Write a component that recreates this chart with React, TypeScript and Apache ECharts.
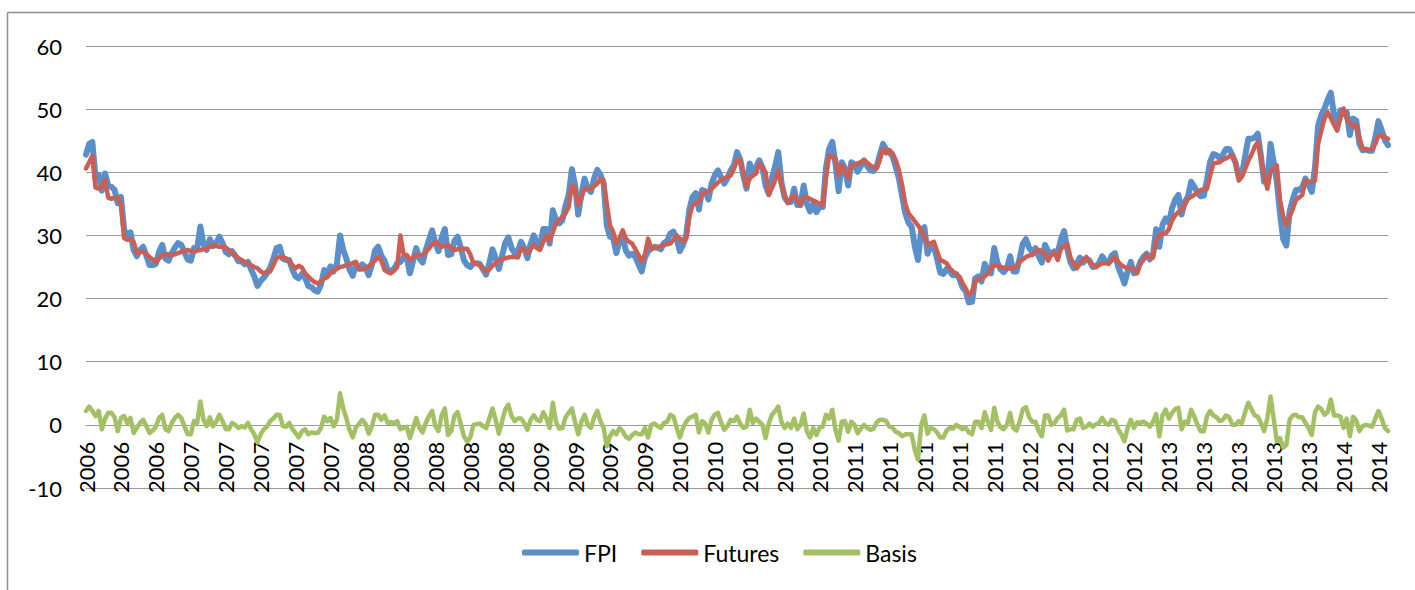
import React, { useEffect, useRef } from "react";
import * as echarts from "echarts";

// Year labels and how many weekly observations fall in each year
const yearLabels = ["2006", "2007", "2008", "2009", "2010", "2011", "2012", "2013", "2014"];
const weeksPerYear = [30, 52, 52, 52, 52, 52, 51, 52, 18];

const fpi = [
  42.8, 44.5, 44.8, 39.0, 39.6, 37.1, 39.8, 37.9, 37.7, 37.2,
  35.1, 36.1, 31.0, 29.6, 30.5, 27.7, 26.7, 27.7, 28.2, 26.8,
  25.3, 25.3, 25.5, 27.4, 28.5, 26.3, 26.0, 27.2, 28.1, 28.8,
  28.5, 27.4, 26.2, 26.0, 28.0, 27.9, 31.4, 28.6, 27.7, 29.4,
  28.3, 28.8, 29.8, 28.8, 27.4, 27.0, 27.5, 26.8, 25.9, 25.9,
  25.4, 25.8, 24.6, 23.5, 22.0, 22.8, 23.3, 24.0, 24.9, 26.3,
  28.0, 28.2, 26.3, 26.1, 26.1, 24.6, 23.5, 23.2, 23.9, 23.3,
  22.0, 21.8, 21.3, 21.1, 22.2, 24.5, 24.0, 25.1, 24.3, 25.5,
  30.0, 27.7, 26.3, 24.6, 23.6, 25.4, 24.8, 25.4, 25.0, 23.7,
  25.3, 27.6, 28.2, 26.8, 26.0, 24.5, 24.4, 24.7, 25.6, 25.8,
  26.5, 26.6, 24.0, 26.0, 28.0, 26.4, 25.7, 27.7, 29.3, 30.8,
  28.8, 27.5, 29.7, 31.0, 26.9, 27.0, 29.1, 29.8, 28.1, 26.1,
  25.3, 25.0, 25.6, 25.6, 25.5, 24.6, 23.8, 25.6, 27.8, 26.4,
  24.7, 26.7, 28.8, 29.7, 28.0, 27.2, 27.5, 29.0, 28.0, 26.4,
  28.6, 30.0, 28.8, 28.3, 31.0, 31.0, 28.7, 34.0, 32.4, 31.9,
  32.4, 34.7, 36.4, 40.5, 38.0, 33.3, 36.5, 39.0, 37.4, 36.9,
  39.0, 40.4, 39.6, 38.2, 31.6, 29.8, 29.6, 27.2, 29.1, 29.8,
  27.6, 26.8, 27.1, 26.6, 25.4, 24.3, 26.5, 27.5, 27.9, 28.2,
  28.0, 27.8, 28.8, 29.1, 30.3, 30.6, 29.5, 27.5, 28.5, 30.0,
  34.1, 36.1, 36.7, 34.1, 37.2, 37.0, 35.7, 38.2, 39.5, 40.3,
  39.2, 38.2, 39.1, 40.3, 41.1, 43.2, 42.1, 39.5, 37.4, 41.4,
  39.8, 40.8, 41.9, 40.8, 37.9, 36.6, 39.1, 40.9, 43.2, 38.4,
  36.0, 35.3, 35.3, 37.4, 34.8, 34.8, 37.9, 35.0, 33.8, 35.0,
  33.7, 34.5, 34.5, 40.6, 43.7, 44.8, 41.4, 37.0, 41.6, 40.6,
  37.9, 41.6, 41.2, 40.1, 41.0, 41.9, 41.0, 40.3, 40.2, 41.0,
  42.8, 44.5, 43.6, 43.2, 42.5, 40.8, 39.0, 36.2, 33.5, 32.0,
  31.4, 28.2, 26.1, 30.8, 31.3, 27.1, 28.3, 28.3, 26.3, 24.1,
  23.9, 24.7, 24.3, 23.7, 23.9, 23.2, 21.8, 21.2, 19.4, 19.5,
  23.2, 23.5, 22.7, 25.5, 24.5, 24.0, 28.0, 25.7, 24.6, 24.2,
  24.8, 26.7, 24.3, 24.3, 26.3, 28.7, 29.4, 28.0, 27.4, 28.0,
  26.7, 25.7, 28.5, 27.5, 27.0, 27.5, 27.2, 29.4, 30.7, 27.8,
  25.8, 24.8, 25.6, 26.5, 25.7, 26.3, 26.0, 25.0, 25.1, 25.6,
  26.7, 25.9, 25.6, 26.8, 27.2, 25.1, 23.8, 22.4, 24.3, 25.8,
  24.0, 24.4, 25.8, 26.6, 27.1, 26.2, 27.0, 31.0, 28.2, 31.7,
  32.7, 32.0, 34.3, 35.7, 36.4, 33.3, 35.3, 36.1, 38.5, 37.7,
  36.8, 36.2, 36.3, 38.8, 41.7, 42.9, 42.7, 42.2, 42.8, 43.7,
  43.7, 42.7, 41.5, 39.3, 39.6, 42.5, 45.3, 45.3, 45.5, 46.1,
  42.5, 38.5, 38.4, 44.5, 41.6, 38.5, 33.5, 29.4, 28.4, 33.7,
  35.7, 37.2, 37.2, 37.6, 39.0, 38.0, 36.9, 40.7, 47.4, 49.1,
  50.1, 51.5, 52.6, 49.0, 48.1, 49.8, 49.6, 49.5, 45.9, 48.5,
  48.2, 44.5, 43.5, 43.6, 43.4, 43.4, 45.5, 48.1, 46.7, 45.1,
  44.3,
];

const futures = [
  40.6, 41.6, 42.6, 37.6, 37.4, 37.8, 38.8, 36.0, 35.8, 36.0,
  36.1, 35.0, 29.6, 29.3, 29.4, 29.0, 27.2, 27.4, 27.4, 27.0,
  26.6, 26.2, 25.8, 26.3, 26.9, 27.0, 27.0, 26.9, 27.0, 27.2,
  27.4, 27.6, 27.7, 27.5, 27.4, 27.6, 27.7, 27.8, 27.9, 28.2,
  28.5, 28.3, 28.2, 28.2, 28.1, 27.7, 27.2, 26.8, 26.4, 26.1,
  25.8, 25.5, 25.3, 25.0, 24.8, 24.3, 24.0, 24.3, 24.3, 25.3,
  26.4, 26.6, 26.5, 26.4, 25.8, 25.3, 24.8, 25.2, 24.9, 24.0,
  23.5, 23.0, 22.6, 22.4, 22.7, 23.2, 23.4, 24.0, 24.5, 24.7,
  25.0, 25.1, 25.3, 25.4, 25.6, 25.8, 24.6, 24.6, 24.8, 25.1,
  25.6, 26.0, 26.6, 26.0, 24.5, 24.2, 24.0, 24.4, 25.0, 30.0,
  27.0, 26.9, 26.1, 26.5, 26.9, 26.9, 26.9, 27.4, 27.9, 28.6,
  29.0, 28.5, 28.2, 28.4, 28.5, 28.0, 27.7, 27.8, 27.9, 27.9,
  27.9, 27.0, 25.6, 25.5, 25.3, 24.8, 24.3, 24.6, 25.2, 25.6,
  26.1, 26.2, 26.4, 26.5, 26.6, 26.6, 26.5, 28.0, 27.7, 27.2,
  27.8, 28.5, 28.0, 27.7, 29.0, 30.0, 29.2, 30.5, 31.9, 32.5,
  32.9, 33.5, 34.5, 37.9, 37.5, 34.8, 36.0, 37.4, 37.4, 37.4,
  37.8, 38.2, 39.0, 38.7, 35.0, 31.6, 30.6, 28.7, 29.6, 30.8,
  29.5, 29.0, 28.7, 27.8, 26.9, 25.8, 27.0, 29.5, 27.9, 28.0,
  28.2, 28.3, 28.5, 28.6, 28.7, 29.3, 30.0, 29.5, 29.0, 29.5,
  33.0, 34.8, 35.1, 35.3, 36.6, 36.8, 36.9, 37.4, 37.9, 38.4,
  38.8, 39.0, 39.3, 39.5, 40.5, 41.9, 41.9, 40.0, 37.7, 39.0,
  39.5, 39.8, 41.4, 40.8, 40.0, 36.4, 37.5, 38.7, 40.3, 37.9,
  36.5, 35.1, 35.8, 36.4, 35.5, 34.8, 36.1, 36.0, 35.8, 35.5,
  35.3, 35.0, 34.8, 39.0, 42.7, 42.4, 42.2, 39.5, 41.1, 40.0,
  39.0, 41.1, 41.2, 41.4, 41.6, 41.9, 41.5, 41.1, 40.8, 40.6,
  42.0, 43.7, 43.0, 43.5, 43.0, 41.9, 40.3, 38.0, 35.0, 33.5,
  32.9, 32.2, 31.6, 30.8, 29.8, 28.5, 28.8, 29.0, 27.5, 26.1,
  25.9, 25.6, 24.8, 24.3, 23.9, 23.5, 22.5, 21.6, 20.6, 21.0,
  22.7, 23.0, 23.2, 23.5, 24.0, 24.8, 25.3, 25.2, 25.0, 24.9,
  24.8, 24.8, 24.8, 25.2, 25.8, 26.2, 26.6, 26.8, 26.9, 27.5,
  27.7, 27.5, 27.0, 26.0, 27.0, 27.2, 26.1, 27.9, 28.3, 28.7,
  26.5, 25.5, 24.8, 25.5, 26.2, 26.6, 25.8, 25.3, 25.0, 25.3,
  25.6, 25.6, 25.6, 26.0, 26.6, 25.8, 25.3, 25.0, 24.8, 25.0,
  24.5, 24.0, 25.5, 26.1, 26.9, 26.5, 26.5, 29.3, 30.0, 30.2,
  30.3, 31.0, 32.4, 33.2, 33.7, 34.0, 34.8, 35.8, 36.1, 36.4,
  36.8, 37.2, 37.3, 37.4, 39.5, 41.4, 41.5, 41.6, 42.0, 42.2,
  42.5, 42.7, 41.5, 38.7, 39.3, 40.5, 41.8, 42.8, 44.0, 44.8,
  42.2, 39.5, 37.4, 40.0, 40.6, 41.1, 35.6, 33.0, 31.6, 32.9,
  34.2, 35.6, 36.0, 36.4, 38.7, 38.5, 38.5, 38.7, 44.5, 46.6,
  48.5, 49.5, 48.6, 47.5, 46.6, 48.5, 50.1, 48.5, 47.7, 47.2,
  47.5, 45.5, 43.7, 43.6, 43.5, 43.7, 44.5, 45.9, 45.7, 45.6,
  45.3,
];

const basis = [
  2.2, 2.9, 2.2, 1.4, 2.2, -0.7, 1.0, 1.9, 1.9, 1.2,
  -1.0, 1.1, 1.4, 0.3, 1.1, -1.3, -0.5, 0.3, 0.8, -0.2,
  -1.3, -0.9, -0.3, 1.1, 1.6, -0.7, -1.0, 0.3, 1.1, 1.6,
  1.1, -0.2, -1.5, -1.5, 0.6, 0.3, 3.7, 0.8, -0.2, 1.2,
  -0.2, 0.5, 1.6, 0.6, -0.7, -0.7, 0.3, 0.0, -0.5, -0.2,
  -0.4, 0.3, -0.7, -1.5, -2.8, -1.5, -0.7, -0.3, 0.6, 1.0,
  1.6, 1.6, -0.2, -0.3, 0.3, -0.7, -1.3, -2.0, -1.0, -0.7,
  -1.5, -1.2, -1.3, -1.3, -0.5, 1.3, 0.6, 1.1, -0.2, 0.8,
  5.0, 2.6, 1.0, -0.8, -2.0, -0.4, 0.2, 0.8, 0.2, -1.4,
  -0.3, 1.6, 1.6, 0.8, 1.5, 0.3, 0.4, 0.3, 0.6, -0.7,
  -0.5, -0.3, -2.1, -0.5, 1.1, -0.5, -1.2, 0.3, 1.4, 2.2,
  -0.2, -1.0, 1.5, 2.6, -1.6, -1.0, 1.4, 2.0, 0.2, -1.8,
  -2.6, -2.0, 0.0, 0.1, 0.2, -0.2, -0.5, 1.0, 2.6, 0.8,
  -1.4, 0.5, 2.4, 3.2, 1.4, 0.6, 1.0, 1.0, 0.3, -0.8,
  0.8, 1.5, 0.8, 0.6, 2.0, 1.0, -0.5, 3.5, 0.5, -0.6,
  -0.5, 1.2, 1.9, 2.6, 0.5, -1.5, 0.5, 1.6, 0.0, -0.5,
  1.2, 2.2, 0.6, -0.5, -3.4, -1.8, -1.0, -1.5, -0.5, -1.0,
  -1.9, -2.2, -1.6, -1.2, -1.5, -1.5, -0.5, -2.0, 0.0, 0.2,
  -0.2, -0.5, 0.3, 0.5, 1.6, 1.3, -0.5, -2.0, -0.5, 0.5,
  1.1, 1.3, 1.6, -1.2, 0.6, 0.2, -1.2, 0.8, 1.6, 1.9,
  0.4, -0.8, -0.2, 0.8, 0.6, 1.3, 0.2, -0.5, -0.3, 2.4,
  0.3, 1.0, 0.5, 0.0, -2.1, 0.2, 1.6, 2.2, 2.9, 0.5,
  -0.5, 0.2, -0.5, 1.0, -0.7, 0.0, 1.8, -1.0, -2.0, -0.5,
  -1.6, -0.5, -0.3, 1.6, 1.0, 2.4, -0.8, -2.5, 0.5, 0.6,
  -1.1, 0.5, 0.0, -1.3, -0.6, 0.0, -0.5, -0.8, -0.6, 0.4,
  0.8, 0.8, 0.6, -0.3, -0.5, -1.1, -1.3, -1.8, -1.5, -1.5,
  -1.5, -4.0, -5.5, 0.0, 1.5, -1.4, -0.5, -0.7, -1.2, -2.0,
  -2.0, -0.9, -0.5, -0.6, 0.0, -0.3, -0.7, -0.4, -1.2, -1.5,
  0.5, 0.5, -0.5, 2.0, 0.5, -0.8, 2.7, 0.5, -0.4, -0.7,
  0.0, 1.9, -0.5, -0.9, 0.5, 2.5, 2.8, 1.2, 0.5, 0.5,
  -1.0, -1.8, 1.5, 1.5, 0.0, 0.3, 1.1, 1.5, 2.4, -0.9,
  -0.7, -0.7, 0.8, 1.0, -0.5, -0.3, 0.2, -0.3, 0.1, 0.3,
  1.1, 0.3, 0.0, 0.8, 0.6, -0.7, -1.5, -2.6, -0.5, 0.8,
  -0.5, 0.4, 0.3, 0.5, 0.2, -0.3, 0.5, 1.7, -1.8, 1.5,
  2.4, 1.0, 1.9, 2.5, 2.7, -0.7, 0.5, 0.3, 2.4, 1.3,
  0.0, -1.0, -1.0, 1.4, 2.2, 1.5, 1.2, 0.6, 0.8, 1.5,
  1.2, 0.0, 0.0, 0.6, 0.3, 2.0, 3.5, 2.5, 1.5, 1.3,
  0.3, -1.0, 1.0, 4.5, 1.0, -2.6, -2.1, -3.6, -3.2, 0.8,
  1.5, 1.6, 1.2, 1.2, 0.3, -0.5, -1.6, 2.0, 2.9, 2.5,
  1.6, 2.0, 4.0, 1.5, 1.5, 1.3, -0.5, 1.0, -1.8, 1.3,
  0.7, -1.0, -0.2, 0.0, -0.1, -0.3, 1.0, 2.2, 1.0, -0.5,
  -1.0,
];

// Category axis labels: one year label per weekly observation
const categories: string[] = [];
yearLabels.forEach((y, k) => {
  for (let j = 0; j < weeksPerYear[k]; j++) categories.push(y);
});

const yTicks = { min: -10, max: 60, interval: 10 };

export default function App() {
  const ref = useRef<HTMLDivElement>(null);

  useEffect(() => {
    if (!ref.current) return;
    const chart = echarts.init(ref.current, null, { renderer: "svg" });
    const font = "Lato, 'Open Sans', sans-serif";
    const gridTop = 46;
    const gridBottom = 102;
    const plotH = 590 - gridTop - gridBottom;
    // distance from the bottom of the plot (-10) up to the zero line
    const zeroOffset = (plotH * (0 - yTicks.min)) / (yTicks.max - yTicks.min);
    chart.setOption({
      animation: false,
      backgroundColor: "#ffffff",
      textStyle: { fontFamily: font },
      grid: { left: 86, right: 27, top: gridTop, bottom: gridBottom, containLabel: false },
      legend: {
        left: 522,
        top: 541,
        padding: 0,
        itemWidth: 57,
        itemHeight: 6,
        itemGap: 24,
        icon: "roundRect",
        textStyle: { fontSize: 23, color: "#000", fontFamily: font },
        data: ["FPI", "Futures", "Basis"],
      },
      xAxis: {
        type: "category",
        data: categories,
        boundaryGap: false,
        position: "bottom",
        offset: -zeroOffset,
        axisLine: { show: true, onZero: false, lineStyle: { color: "#9a9a9a", width: 1.2 } },
        axisTick: { show: false },
        axisLabel: {
          interval: 10,
          rotate: 90,
          margin: 17,
          fontSize: 22,
          color: "#000",
          fontFamily: font,
        },
        splitLine: { show: false },
      },
      yAxis: {
        type: "value",
        min: yTicks.min,
        max: yTicks.max,
        interval: yTicks.interval,
        axisLine: { show: false },
        axisTick: { show: false },
        axisLabel: { fontSize: 22, color: "#000", margin: 24, fontFamily: font },
        splitLine: { show: true, lineStyle: { color: "#9a9a9a", width: 1.2 } },
      },
      graphic: [
        {
          type: "line",
          shape: { x1: 7.5, y1: 12.5, x2: 1415, y2: 12.5 },
          style: { stroke: "#8f8f8f", lineWidth: 1.5 },
          silent: true,
        },
        {
          type: "line",
          shape: { x1: 7.5, y1: 12.5, x2: 7.5, y2: 590 },
          style: { stroke: "#8f8f8f", lineWidth: 1.5 },
          silent: true,
        },
      ],
      series: [
        {
          name: "FPI",
          type: "line",
          data: fpi,
          showSymbol: false,
          symbol: "none",
          color: "#5B8FC9",
          lineStyle: { width: 6, color: "#5B8FC9", cap: "round", join: "round" },
        },
        {
          name: "Futures",
          type: "line",
          data: futures,
          showSymbol: false,
          symbol: "none",
          color: "#CB5F55",
          lineStyle: { width: 4.5, color: "#CB5F55", cap: "round", join: "round" },
        },
        {
          name: "Basis",
          type: "line",
          data: basis,
          showSymbol: false,
          symbol: "none",
          color: "#A3C164",
          lineStyle: { width: 4.5, color: "#A3C164", cap: "round", join: "round" },
        },
      ],
    });
    return () => chart.dispose();
  }, []);

  return (
    <div
      ref={ref}
      style={{ position: "fixed", left: 0, top: 0, width: 1415, height: 590, background: "#fff" }}
    />
  );
}
